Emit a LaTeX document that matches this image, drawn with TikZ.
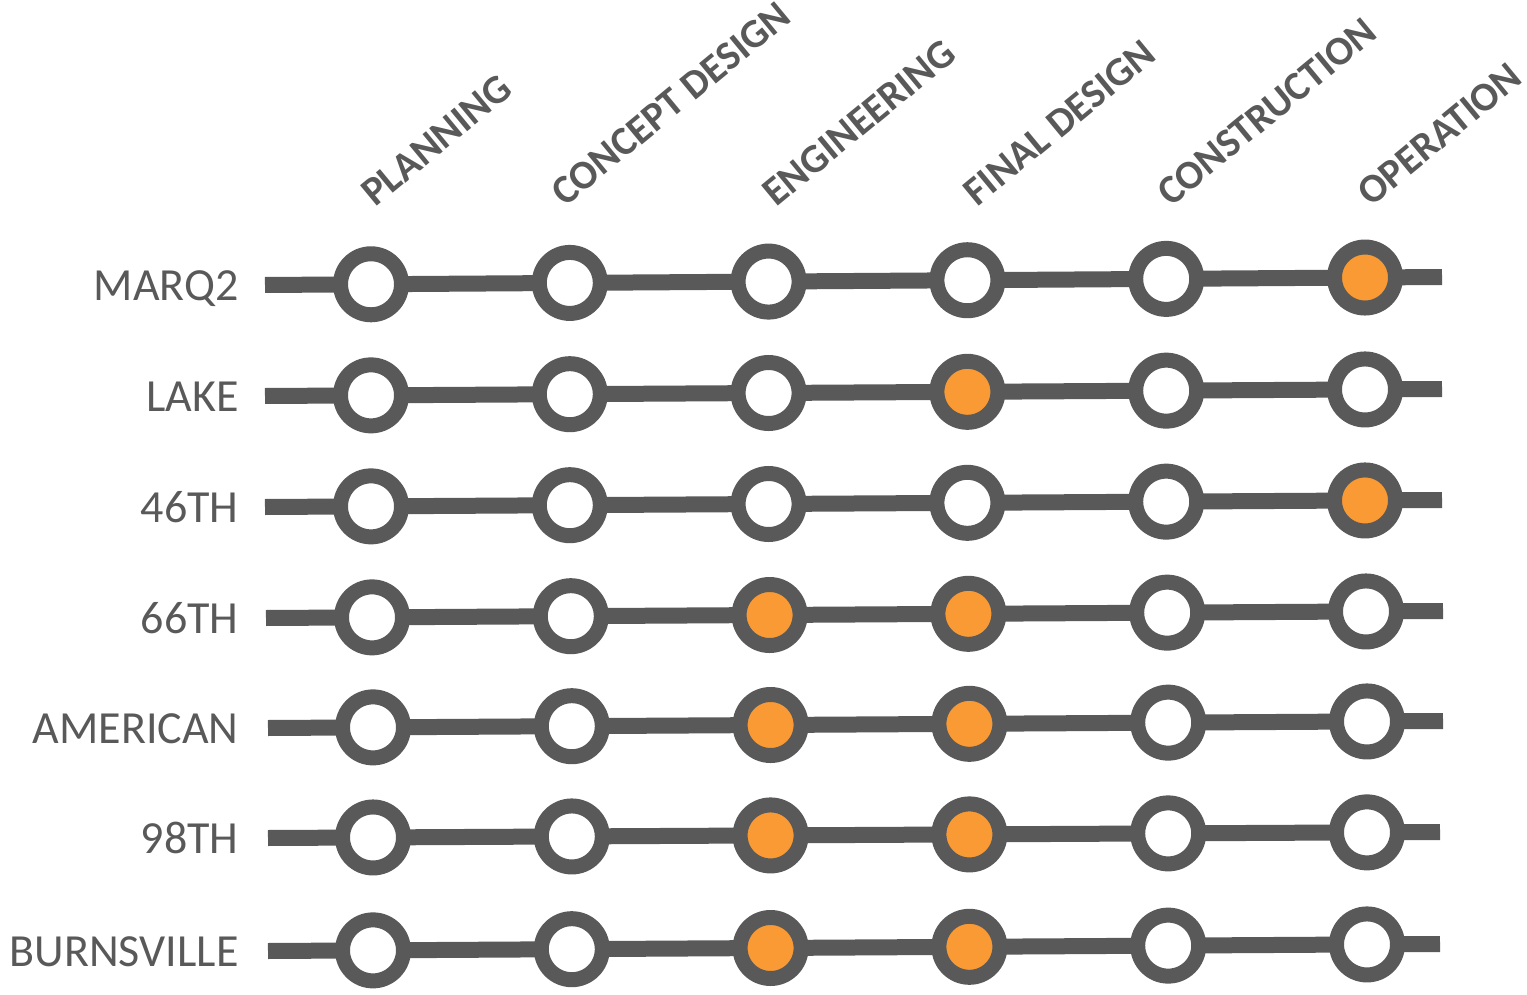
\documentclass[tikz,border=0pt]{standalone}
\usepackage{fontspec}
\setmainfont{Carlito}
\definecolor{metro}{RGB}{89,89,89}
\definecolor{stage}{RGB}{250,154,52}

\begin{document}
\begin{tikzpicture}[x = 0.5pt, y = -0.5pt,
                        track/.style = {line width = 8pt, color = metro},
                        stop/.style = {circle, draw = metro, line width = 7.5pt, minimum size = 30.5pt, inner sep = 0pt},
                        stopopen/.style = {fill = white},
                        stopdone/.style = {fill = stage},
                        line_label/.style = {anchor = base east, inner sep = 0pt, text = metro,
                        font = \fontsize{23}{28}\selectfont},
                        phase_label/.style = {anchor = base west, inner sep = 0pt, rotate = 39.5, text = metro,
                        font = \fontsize{20.3}{25}\selectfont\bfseries}]
        \pgfdeclarelayer{bg}    % declare background layer
        \pgfsetlayers{bg,main}  % tracks go under the stops
        \useasboundingbox (0,0) rectangle (1527,995);
        %phase headings
        \foreach \Xcoor/\txt [count=\c] in {375/PLANNING, 565/CONCEPT DESIGN, 776/ENGINEERING,
                                            977/FINAL DESIGN, 1171/CONSTRUCTION, 1371/OPERATION}
            \node[phase_label] (phase\c) at (\Xcoor,208) {\txt};
        %lines: label / y left / y right / x left / x right / shift / orange stops
        \foreach \lab/\Yl/\Yr/\Xl/\Xr/\sh/\ha/\hb [count=\r] in {
                MARQ2/285/277/265/1442/0/6/0,
                LAKE/396/389/265/1442/0/4/0,
                46TH/507/500/265/1442/0/6/0,
                66TH/618/611/266/1443/1/3/4,
                AMERICAN/728/721/268/1443/2/3/4,
                98TH/838/832/268/1440/2/3/4,
                BURNSVILLE/951/944/268/1440/2/3/4}
        {
            \node[line_label] (name\r) at (239,\Yl+15) {\lab};
            \coordinate (start\r) at (\Xl,\Yl);
            \coordinate (end\r) at (\Xr,\Yr);
            \foreach \c in {1,...,6} {
                \pgfmathsetmacro\Xc{371+198.8*(\c-1)+\sh}
                \pgfmathsetmacro\Yc{\Yl+(\Yr-\Yl)*(\Xc-\Xl)/(\Xr-\Xl)}
                \def\look{stopopen}
                \ifnum\c=\ha \def\look{stopdone}\fi
                \ifnum\c=\hb \def\look{stopdone}\fi
                \node[stop, \look] (stop\r-\c) at (\Xc,\Yc) {};
            }
            \begin{pgfonlayer}{bg}    % select the background layer
                \draw[track] (start\r) -- (stop\r-1.center) -- (stop\r-2.center) -- (stop\r-3.center)
                    -- (stop\r-4.center) -- (stop\r-5.center) -- (stop\r-6.center) -- (end\r);
            \end{pgfonlayer}
        }
    \end{tikzpicture}
\end{document}
